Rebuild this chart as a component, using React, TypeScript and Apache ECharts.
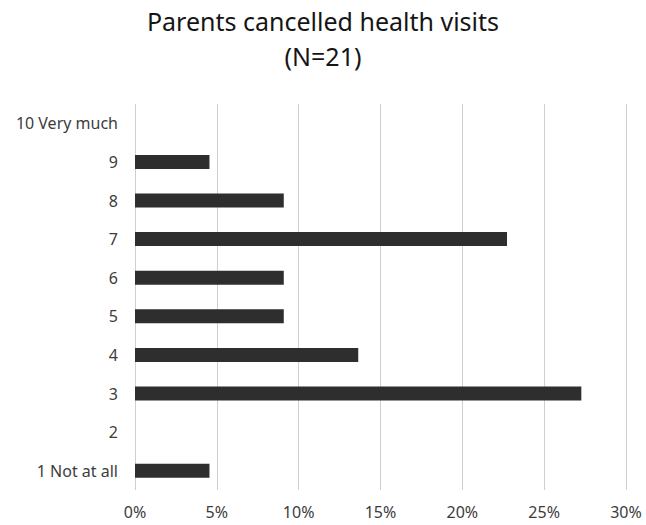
import React, { useEffect, useRef } from "react";
import * as echarts from "echarts";

const titleLines = ["Parents cancelled health visits", "(N=21)"];
const categories = ["1 Not at all", "2", "3", "4", "5", "6", "7", "8", "9", "10 Very much"];
const values = [4.55, 0, 27.27, 13.64, 9.09, 9.09, 22.73, 9.09, 4.55, 0];
const xTicks = [0, 5, 10, 15, 20, 25, 30];

export default function App() {
  const ref = useRef<HTMLDivElement>(null);
  useEffect(() => {
    if (!ref.current) return;
    const chart = echarts.init(ref.current, undefined, { renderer: "svg" });
    const font = "Noto Sans";
    chart.setOption({
      animation: false,
      backgroundColor: "#ffffff",
      title: {
        text: titleLines.join("\n"),
        left: "center",
        top: -2,
        textStyle: {
          fontFamily: font,
          fontSize: 25,
          fontWeight: "normal",
          color: "#151515",
          lineHeight: 35,
        },
      },
      grid: { left: 135, right: 20, top: 104, bottom: 35, containLabel: false },
      xAxis: {
        type: "value",
        min: xTicks[0],
        max: xTicks[xTicks.length - 1],
        interval: 5,
        axisLine: { show: false },
        axisTick: { show: false },
        splitLine: { show: true, lineStyle: { color: "#cfcfcf", width: 1 } },
        axisLabel: {
          formatter: (v: number) => `${v}%`,
          fontFamily: font,
          fontSize: 16,
          color: "#3c3c3c",
          margin: 14,
        },
      },
      yAxis: {
        type: "category",
        data: categories,
        axisLine: { show: false },
        axisTick: { show: false },
        axisLabel: {
          fontFamily: font,
          fontSize: 16,
          color: "#3c3c3c",
          margin: 17,
        },
      },
      series: [
        {
          type: "bar",
          data: values,
          barWidth: 14,
          itemStyle: { color: "#2e2e2e" },
        },
      ],
    });
    return () => chart.dispose();
  }, []);
  return (
    <div
      ref={ref}
      style={{ position: "fixed", left: 0, top: 0, width: 646, height: 525 }}
    />
  );
}
